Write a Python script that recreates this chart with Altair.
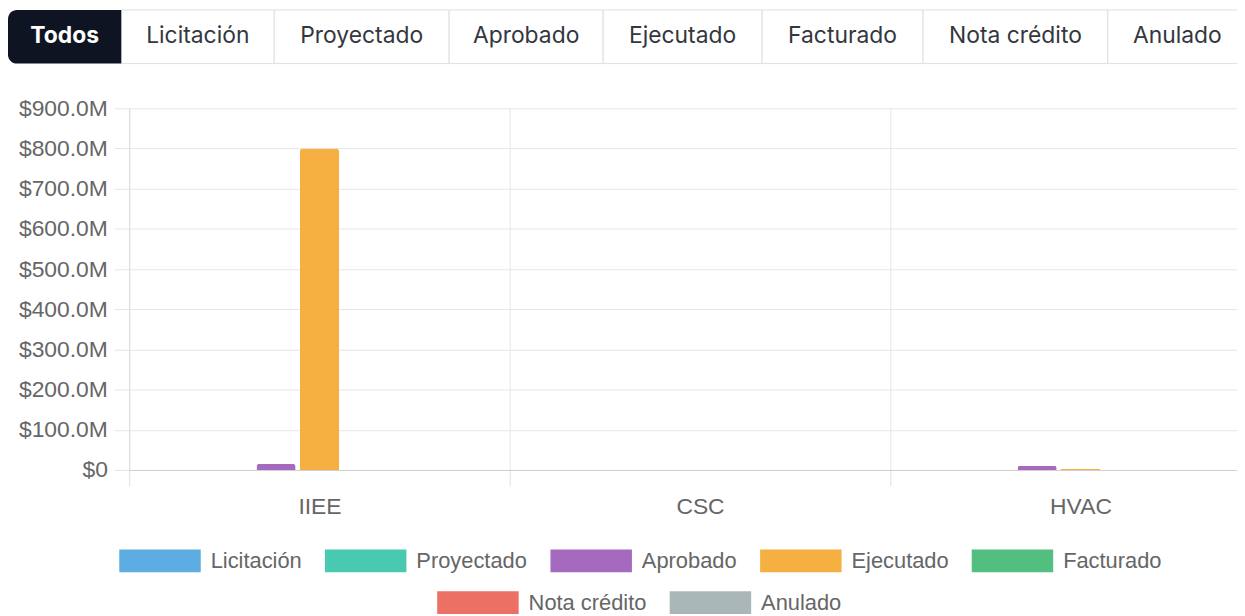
import altair as alt
import pandas as pd

# ---------------- data ----------------
categories = ["IIEE", "CSC", "HVAC"]
series = ["Licitación", "Proyectado", "Aprobado", "Ejecutado",
          "Facturado", "Nota crédito", "Anulado"]
licitacion = [0, 0, 0]
proyectado = [0, 0, 0]
aprobado = [15e6, 0, 10e6]
ejecutado = [800e6, 0, 3e6]
facturado = [0, 0, 0]
nota_credito = [0, 0, 0]
anulado = [0, 0, 0]
y_ticks = [0, 100e6, 200e6, 300e6, 400e6, 500e6, 600e6, 700e6, 800e6, 900e6]
tab_labels = ["Todos", "Licitación", "Proyectado", "Aprobado", "Ejecutado",
              "Facturado", "Nota crédito", "Anulado"]
selected_tab = "Todos"

# ---------------- styles / layout ----------------
colors = ["#5DADE2", "#48C9B0", "#A569BD", "#F5B041",
          "#52BE80", "#EC7063", "#AAB7B8"]
TAB_WIDTHS = [114, 154, 176, 155, 160, 162, 186, 140]
FONT = "Liberation Sans"
TAB_FONT = "Inter"
PAD_L, PAD_T, PAD_B = 122, 99, 145
PLOT_W, PLOT_H = 1115, 364
BAND_RANGE = 1149          # three categories of 383 px; the last one is cut off
TAB_TOP, TAB_BOT = -PAD_T, -45

values_by_series = [licitacion, proyectado, aprobado, ejecutado,
                    facturado, nota_credito, anulado]
rows = []
for s, vals in zip(series, values_by_series):
    for c, v in zip(categories, vals):
        rows.append({"category": c, "series": s, "value": v})
df = pd.DataFrame(rows)

# ---------------- tab bar ----------------
starts, ends = [], []
acc = 0
for w in TAB_WIDTHS:
    starts.append(acc)
    acc += w
    ends.append(acc)
tabs_df = pd.DataFrame({
    "tab": tab_labels,
    "x0": starts,
    "x1": ends,
    "mid": [(a + b) / 2 for a, b in zip(starts, ends)],
    "sel": [t == selected_tab for t in tab_labels],
})
tx = alt.Scale(domain=[0, acc], range=[-PAD_L, acc - PAD_L], nice=False, zero=False)
TEXT_Y = TAB_TOP + 26

tab_rects = alt.Chart(tabs_df).transform_filter("!datum.sel").mark_rect(
    fill="white", stroke="#DCDFE5", strokeWidth=1
).encode(
    x=alt.X("x0:Q", scale=tx, axis=None),
    x2="x1:Q",
    y=alt.value(TAB_TOP),
    y2=alt.value(TAB_BOT),
)
tab_sel = alt.Chart(tabs_df).transform_filter("datum.sel").mark_rect(
    fill="#0E1421", cornerRadiusTopLeft=9, cornerRadiusBottomLeft=9
).encode(
    x=alt.X("x0:Q", scale=tx, axis=None),
    x2="x1:Q",
    y=alt.value(TAB_TOP),
    y2=alt.value(TAB_BOT),
)
tab_text = alt.Chart(tabs_df).transform_filter("!datum.sel").mark_text(
    font=TAB_FONT, fontSize=23, color="#33373E", baseline="middle"
).encode(
    x=alt.X("mid:Q", scale=tx, axis=None),
    y=alt.value(TEXT_Y),
    text="tab:N",
)
tab_text_sel = alt.Chart(tabs_df).transform_filter("datum.sel").mark_text(
    font=TAB_FONT, fontSize=23, fontWeight="bold", color="white", baseline="middle"
).encode(
    x=alt.X("mid:Q", scale=tx, axis=None),
    y=alt.value(TEXT_Y),
    text="tab:N",
)
tabs = alt.layer(tab_rects, tab_sel, tab_text, tab_text_sel)

# ---------------- bar chart ----------------
legend_path = "M-1,-1H6.13V1H-1Z"


def make_legend(x, y):
    return alt.Legend(
        orient="none", legendX=x, legendY=y, direction="horizontal", title=None,
        symbolType=legend_path, symbolSize=529, symbolStrokeWidth=0,
        symbolOpacity=1, labelOffset=69, columnPadding=23, padding=0,
        labelFont=FONT, labelFontSize=22, labelColor="#666666", labelLimit=300,
    )


x_scale = alt.Scale(paddingInner=0, paddingOuter=0, range=[0, BAND_RANGE])
x_enc = alt.X(
    "category:N", sort=categories, title=None, scale=x_scale,
    axis=alt.Axis(
        labelAngle=0, tickBand="extent", grid=True, gridColor="#E6E6E6",
        tickColor="#E0E0E0", tickSize=16, labelPadding=10,
        domainColor="#CFCFCF", labelFont=FONT, labelFontSize=23,
        labelColor="#666666",
    ),
)
x_enc_b = alt.X("category:N", sort=categories, title=None, scale=x_scale, axis=None)
xo_enc = alt.XOffset(
    "series:N", sort=series,
    scale=alt.Scale(domain=series, paddingInner=0.1, paddingOuter=0.93),
)
y_enc = alt.Y(
    "value:Q", title=None,
    scale=alt.Scale(domain=[0, 900e6], nice=False),
    axis=alt.Axis(
        values=y_ticks, grid=True, gridColor="#E6E6E6", tickColor="#E6E6E6",
        tickSize=15, labelPadding=7, domainColor="#DDDDDD",
        labelFont=FONT, labelFontSize=23, labelColor="#666666",
        labelExpr="datum.value == 0 ? '$0' : '$' + format(datum.value / 1e6, '.1f') + 'M'",
    ),
)

bars_a = alt.Chart(df[df.series.isin(series[:5])]).mark_bar(
    cornerRadiusTopLeft=3, cornerRadiusTopRight=3
).encode(
    x=x_enc, xOffset=xo_enc, y=y_enc,
    color=alt.Color("series:N", sort=series[:5],
                    scale=alt.Scale(domain=series[:5], range=colors[:5]),
                    legend=make_legend(-10, 444)),
)
bars_b = alt.Chart(df[df.series.isin(series[5:])]).mark_bar(
    cornerRadiusTopLeft=3, cornerRadiusTopRight=3
).encode(
    x=x_enc_b, xOffset=xo_enc, y=y_enc,
    color=alt.Color("series:N", sort=series[5:],
                    scale=alt.Scale(domain=series[5:], range=colors[5:]),
                    legend=make_legend(310, 486)),
)

chart = alt.layer(tabs, bars_a, bars_b).resolve_scale(
    x="independent", color="independent"
).resolve_legend(color="independent").properties(
    width=PLOT_W, height=PLOT_H,
    autosize=alt.AutoSizeParams(type="none"),
    padding={"left": PAD_L, "top": PAD_T, "right": 0, "bottom": PAD_B},
).configure_view(stroke=None)

chart.save("out.html", embed_options={"renderer": "svg", "actions": False})
